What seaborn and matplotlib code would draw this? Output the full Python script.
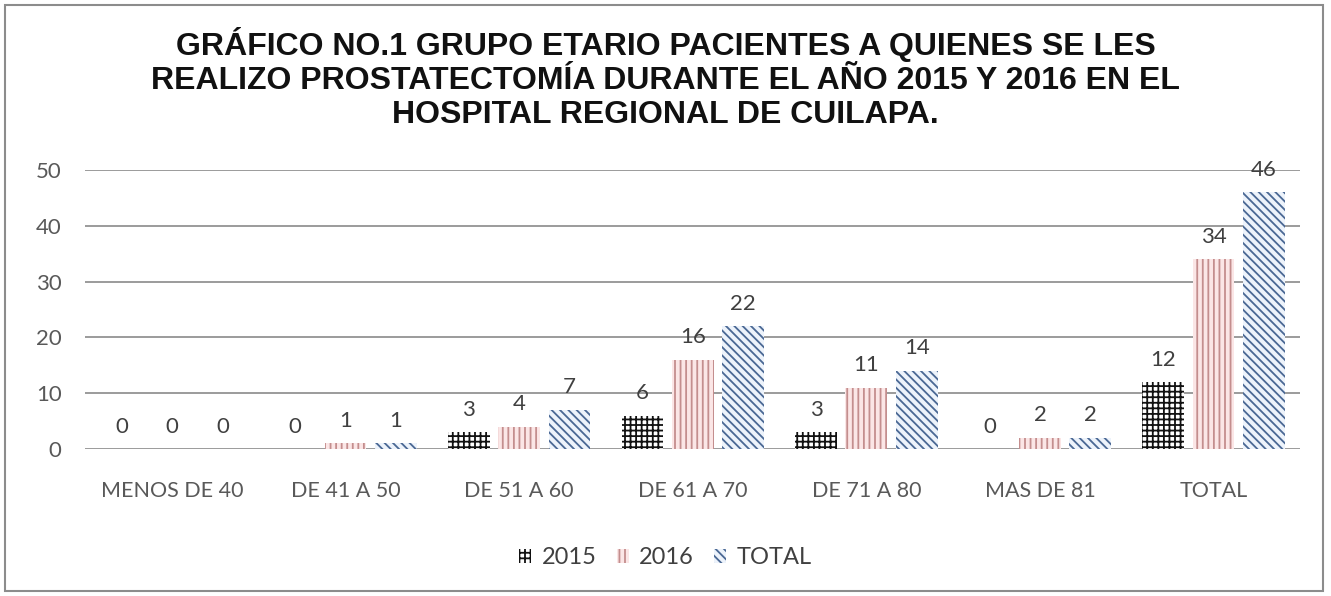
import numpy as np
import pandas as pd
import seaborn as sns
import matplotlib.pyplot as plt
from matplotlib.patches import Patch, Rectangle

# data
grupos = ['MENOS DE 40', 'DE 41 A 50', 'DE 51 A 60', 'DE 61 A 70',
          'DE 71 A 80', 'MAS DE 81', 'TOTAL']
series = ['2015', '2016', 'TOTAL']
v2015 = [0, 0, 3, 6, 3, 0, 12]
v2016 = [0, 1, 4, 16, 11, 2, 34]
vtotal = [0, 1, 7, 22, 14, 2, 46]

df = pd.DataFrame({
    'grupo': grupos * 3,
    'serie': ['2015'] * 7 + ['2016'] * 7 + ['TOTAL'] * 7,
    'valor': v2015 + v2016 + vtotal,
})

sns.set_theme(style='white')
plt.rcParams['font.family'] = ['Lato', 'DejaVu Sans']
plt.rcParams['hatch.linewidth'] = 1.3

fig = plt.figure(figsize=(13.31, 5.96), dpi=100)
ax = fig.add_axes([0.064, 0.2466, 0.913, 0.4682])

faces = ['white', '#fbe6e6', '#edf3fb']
edges = ['#111111', '#c48e8e', '#4a6894']
hatches = ['+++', '|||', '\\\\\\\\']

sns.barplot(data=df, x='grupo', y='valor', hue='serie', hue_order=series,
            order=grupos, palette=faces, width=0.87, gap=0.17,
            legend=False, ax=ax)

for cont, fc, ec, h in zip(ax.containers, faces, edges, hatches):
    for bar in cont:
        bar.set_facecolor(fc)
        bar.set_edgecolor(ec)
        bar.set_hatch(h)
        bar.set_linewidth(0)
    ax.bar_label(cont, fmt='%d', padding=9, fontsize=16, color='#404040')

ax.set_ylim(0, 50)
ax.set_yticks([0, 10, 20, 30, 40, 50])
ax.set_xlim(-0.5, 6.5)
ax.grid(axis='y', color='#8a8a8a', linewidth=1.2)
ax.set_axisbelow(True)
for s in ax.spines.values():
    s.set_visible(False)
ax.set_xlabel('')
ax.set_ylabel('')
ax.tick_params(axis='y', labelsize=16, labelcolor='#595959', pad=17, length=0)
ax.tick_params(axis='x', labelsize=15.5, labelcolor='#595959', pad=23, length=0)

fig.text(0.5, 0.955,
         'GRÁFICO NO.1 GRUPO ETARIO PACIENTES A QUIENES SE LES\n'
         'REALIZO PROSTATECTOMÍA DURANTE EL AÑO 2015 Y 2016 EN EL\n'
         'HOSPITAL REGIONAL DE CUILAPA.',
         ha='center', va='top', fontsize=23, fontweight='bold',
         family=['Liberation Sans', 'DejaVu Sans'], linespacing=1.17,
         color='#111111')

handles = [Patch(facecolor=fc, edgecolor=ec, hatch=h, linewidth=0, label=s)
           for fc, ec, h, s in zip(faces, edges, hatches, series)]
fig.legend(handles=handles, loc='center', bbox_to_anchor=(0.5, 0.064),
           ncol=3, frameon=False, fontsize=17, handlelength=0.5,
           handleheight=0.55, handletextpad=0.45, columnspacing=0.85,
           labelcolor='#404040')

fig.add_artist(Rectangle((0.004, 0.009), 0.99, 0.982, transform=fig.transFigure,
                         fill=False, edgecolor='#8c8c8c', linewidth=1.5))

fig.savefig('out.png', dpi=100)
